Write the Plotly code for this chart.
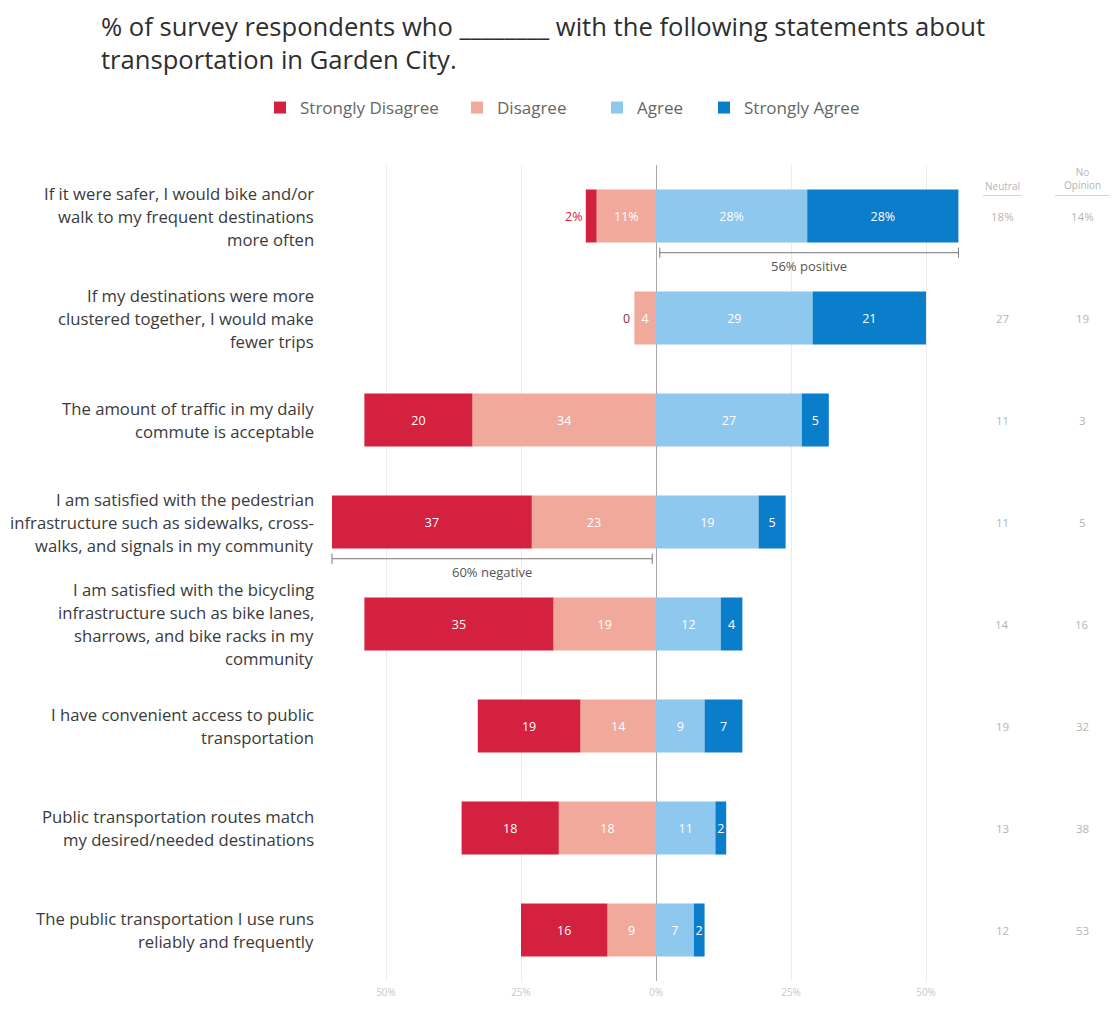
import plotly.graph_objects as go

# Survey statements (top to bottom)
statements = [
    ["If it were safer, I would bike and/or", "walk to my frequent destinations", "more often"],
    ["If my destinations were more", "clustered together, I would make", "fewer trips"],
    ["The amount of traffic in my daily", "commute is acceptable"],
    ["I am satisfied with the pedestrian", "infrastructure such as sidewalks, cross-", "walks, and signals in my community"],
    ["I am satisfied with the bicycling", "infrastructure such as bike lanes,", "sharrows, and bike racks in my", "community"],
    ["I have convenient access to public", "transportation"],
    ["Public transportation routes match", "my desired/needed destinations"],
    ["The public transportation I use runs", "reliably and frequently"],
]

# Percent of respondents per response
strongly_disagree = [2, 0, 20, 37, 35, 19, 18, 16]
disagree = [11, 4, 34, 23, 19, 14, 18, 9]
agree = [28, 29, 27, 19, 12, 9, 11, 7]
strongly_agree = [28, 21, 5, 5, 4, 7, 2, 2]
neutral = [18, 27, 11, 11, 14, 19, 13, 12]
no_opinion = [14, 19, 3, 5, 16, 32, 38, 53]

tick_vals = [-50, -25, 0, 25, 50]
tick_text = ["50%", "25%", "0%", "25%", "50%"]

title_lines = [
    "% of survey respondents who ________ with the following statements about",
    "transportation in Garden City.",
]

C_SD = "#d4213f"
C_D = "#f1a99b"
C_A = "#8ec8ee"
C_SA = "#0b7ecb"
FONT = "Open Sans"

rows = list(range(len(statements)))

# plot area in pixels (used to convert positions to paper fractions)
ML, MR, MT, MB = 326, 123, 165, 18
W, H = 1113, 1011
PW, PH = W - ML - MR, H - MT - MB


def px_x(px):
    return (px - ML) / PW


def px_y(py):
    return (H - MB - py) / PH


def labels(values, first_pct=True, hide_small=()):
    out = []
    for i, v in enumerate(values):
        if i in hide_small:
            out.append("")
        elif i == 0 and first_pct:
            out.append(f"{v}%")
        else:
            out.append(str(v))
    return out


fig = go.Figure()

bar_common = dict(
    orientation="h",
    textposition="inside",
    insidetextanchor="middle",
    textfont=dict(family=FONT, size=12.5, color="white"),
    marker_line_width=0,
    hoverinfo="skip",
)

fig.add_trace(go.Bar(
    name="Disagree", y=rows, x=[-v for v in disagree], legend="legend2",
    text=labels(disagree), marker_color=C_D, **bar_common))
fig.add_trace(go.Bar(
    name="Strongly Disagree", y=rows, x=[-v for v in strongly_disagree], legend="legend",
    text=labels(strongly_disagree, hide_small=(0, 1)), marker_color=C_SD, **bar_common))
fig.add_trace(go.Bar(
    name="Agree", y=rows, x=agree, legend="legend3",
    text=labels(agree), marker_color=C_A, **bar_common))
fig.add_trace(go.Bar(
    name="Strongly Agree", y=rows, x=strongly_agree, legend="legend4",
    text=labels(strongly_agree), marker_color=C_SA, **bar_common))

annotations = []
shapes = []

# Two-line title
annotations.append(dict(
    x=px_x(99), xref="paper", y=px_y(5), yref="paper",
    xanchor="left", yanchor="top", align="left",
    text="<br>".join(title_lines), showarrow=False,
    font=dict(family=FONT, size=25.6, color="#2e2e2e"),
))

# Statement labels, one annotation per line for wider line spacing
LINE_H = 23
for i, lines in enumerate(statements):
    n = len(lines)
    for j, line in enumerate(lines):
        annotations.append(dict(
            x=px_x(316), xref="paper", y=i, yref="y",
            xanchor="right", yanchor="middle",
            yshift=-(j - (n - 1) / 2) * LINE_H,
            text=line, showarrow=False,
            font=dict(family=FONT, size=16.7, color="#3a3a3a"),
        ))

# Small strongly-disagree values placed just outside the bars
for i in (0, 1):
    v = strongly_disagree[i]
    annotations.append(dict(
        x=-(strongly_disagree[i] + disagree[i]), xref="x", y=i, yref="y",
        xanchor="right", yanchor="middle", xshift=-2,
        text=f"{v}%" if i == 0 else str(v), showarrow=False,
        font=dict(family=FONT, size=12.5, color=C_SD if i == 0 else "#8a2a35"),
    ))


# Positive / negative brackets
def bracket(x0, x1, row, label):
    yl = row + 0.36
    shapes.append(dict(type="line", xref="x", yref="y", x0=x0, x1=x1, y0=yl, y1=yl,
                       line=dict(color="#777", width=1)))
    for xe in (x0, x1):
        shapes.append(dict(type="line", xref="x", yref="y", x0=xe, x1=xe,
                           y0=yl - 0.05, y1=yl + 0.05, line=dict(color="#777", width=1)))
    annotations.append(dict(x=(x0 + x1) / 2, xref="x", y=row + 0.49, yref="y",
                            xanchor="center", text=label, showarrow=False,
                            font=dict(family=FONT, size=13, color="#555")))


pos0 = agree[0] + strongly_agree[0]
bracket(0.7, pos0, 0, f"{pos0}% positive")
neg3 = strongly_disagree[3] + disagree[3]
bracket(-neg3, -0.7, 3, f"{neg3}% negative")

# Neutral / No opinion side columns
COL_N, COL_O = px_x(1002), px_x(1082)
GREY = "#b5b5b5"
annotations.append(dict(x=COL_N, xref="paper", y=px_y(186), yref="paper", text="Neutral",
                        showarrow=False, xanchor="center", yanchor="middle",
                        font=dict(family=FONT, size=10, color=GREY)))
annotations.append(dict(x=COL_O, xref="paper", y=px_y(179), yref="paper", text="No<br>Opinion",
                        showarrow=False, xanchor="center", yanchor="middle",
                        font=dict(family=FONT, size=10, color=GREY)))
for x0, x1 in ((983, 1022), (1055, 1110)):
    shapes.append(dict(type="line", xref="paper", yref="paper", x0=px_x(x0), x1=px_x(x1),
                       y0=px_y(196), y1=px_y(196), line=dict(color="#d2d2d2", width=1)))
for i in rows:
    sfx = "%" if i == 0 else ""
    annotations.append(dict(x=COL_N, xref="paper", y=i, yref="y", xanchor="center",
                            text=f"{neutral[i]}{sfx}", showarrow=False,
                            font=dict(family=FONT, size=11.5, color=GREY)))
    annotations.append(dict(x=COL_O, xref="paper", y=i, yref="y", xanchor="center",
                            text=f"{no_opinion[i]}{sfx}", showarrow=False,
                            font=dict(family=FONT, size=11.5, color=GREY)))


# One legend per response category, placed individually along the top
def legend_at(px):
    return dict(
        orientation="h", xref="container", yref="container",
        x=px / W, xanchor="left", y=1 - 108 / H, yanchor="middle",
        font=dict(family=FONT, size=17, color="#666"),
        bgcolor="rgba(0,0,0,0)", itemwidth=30,
    )


fig.update_layout(
    width=W, height=H,
    barmode="relative", bargap=0.48,
    plot_bgcolor="white", paper_bgcolor="white",
    margin=dict(l=ML, r=MR, t=MT, b=MB),
    legend=legend_at(260),
    legend2=legend_at(457),
    legend3=legend_at(597),
    legend4=legend_at(704),
    xaxis=dict(
        range=[-61.11, 61.85], tickvals=tick_vals, ticktext=tick_text,
        showgrid=True, gridcolor="#ececec", gridwidth=1,
        zeroline=True, zerolinecolor="#a8a8a8", zerolinewidth=1,
        tickfont=dict(family=FONT, size=10, color="#c8c8c8"),
        ticks="", showline=False, fixedrange=True, ticklabelstandoff=4,
    ),
    yaxis=dict(
        range=[7.5, -0.5], showticklabels=False, showgrid=False,
        zeroline=False, showline=False, ticks="",
    ),
    annotations=annotations,
    shapes=shapes,
    uniformtext=dict(minsize=11, mode="show"),
    showlegend=True,
)

fig.write_html("out.html")
